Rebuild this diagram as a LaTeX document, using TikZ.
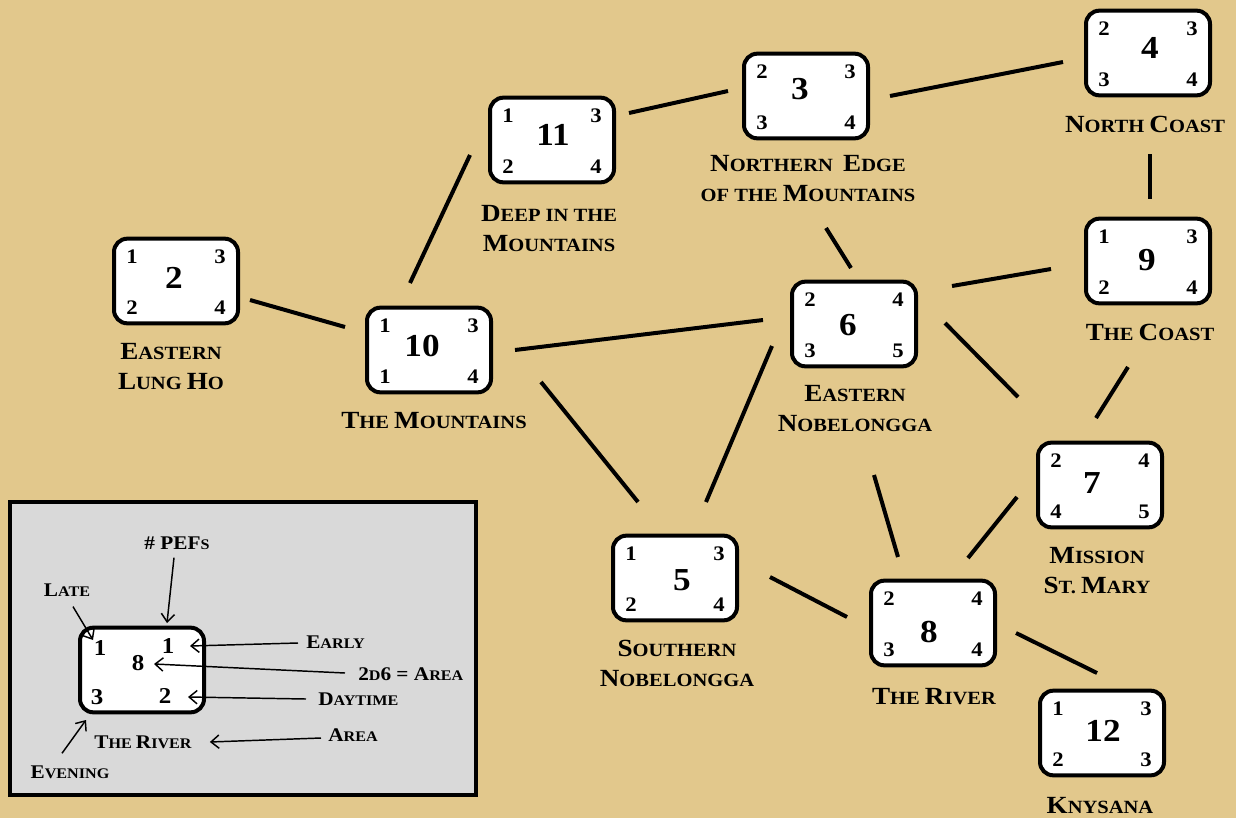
\documentclass[tikz,border=0pt]{standalone}
\usepackage{fontspec}
\setmainfont[FakeStretch=1.1]{Liberation Serif}
\usetikzlibrary{calc,arrows.meta}

\definecolor{parch}{RGB}{226,200,140}
\definecolor{legendgray}{RGB}{217,217,217}

\newcommand\Bg[1]{{\fontsize{18.5}{22.5}\selectfont #1}}
\newcommand\Bl[1]{{\fontsize{14.5}{18}\selectfont #1}}

\tikzset{
  rbox/.style={draw=black, line width=3pt, fill=white, rounded corners=10pt,
    minimum width=93pt, minimum height=63.5pt, inner sep=0pt},
  cnum/.style={font=\bfseries\fontsize{24}{24}\selectfont, inner sep=0pt},
  knum/.style={font=\bfseries\fontsize{15.5}{15.5}\selectfont, inner sep=0pt},
  lbl/.style={font=\bfseries\fontsize{14}{22.5}\selectfont, align=center, inner sep=0pt},
  conn/.style={line width=3pt, draw=black},
  legframe/.style={draw=black, line width=3pt, fill=legendgray,
    minimum width=349.5pt, minimum height=219.75pt, inner sep=0pt},
  lnum/.style={font=\bfseries\fontsize{17}{17}\selectfont, inner sep=0pt},
  llbl/.style={font=\bfseries\fontsize{11}{14}\selectfont, inner sep=0pt},
  larr/.style={line width=1.1pt, draw=black, -{Straight Barb[length=6pt,width=10pt]}}
}

\newcommand\regbox[8]{%
  \node[rbox] (#1) at #2 {};
  \node[cnum] (#1c) at ($(#1)+#4$) {#3};
  \node[knum] (#1tl) at ($(#1)+(-44,-24)$) {#5};
  \node[knum] (#1tr) at ($(#1)+(44,-24)$) {#6};
  \node[knum] (#1bl) at ($(#1)+(-44,27)$) {#7};
  \node[knum] (#1br) at ($(#1)+(44,27)$) {#8};
}

\begin{document}
\begin{tikzpicture}[x=0.75pt, y=-0.75pt]
\useasboundingbox (0,0) rectangle (1236,818);
\fill[parch] (0,0) rectangle (1236,818);

% region boxes
\regbox{n2}{(176,281)}{2}{(-2,-3)}{1}{3}{2}{4}
\regbox{n10}{(429,350)}{10}{(-7,-4)}{1}{3}{1}{4}
\regbox{n11}{(552,140)}{11}{(1,-5)}{1}{3}{2}{4}
\regbox{n3}{(806,96)}{3}{(-6,-7)}{2}{3}{3}{4}
\regbox{n4}{(1148,53)}{4}{(2,-5)}{2}{3}{3}{4}
\regbox{n9}{(1148,261)}{9}{(-1,-1)}{1}{3}{2}{4}
\regbox{n6}{(854,324)}{6}{(-6,1)}{2}{4}{3}{5}
\regbox{n7}{(1100,485)}{7}{(-8,-2)}{2}{4}{4}{5}
\regbox{n5}{(675,578)}{5}{(7,2)}{1}{3}{2}{4}
\regbox{n8}{(933,623)}{8}{(-4,9)}{2}{4}{3}{4}
\regbox{n12}{(1102,733)}{12}{(1,-2)}{1}{3}{2}{3}

% region names
\node[lbl] (lab2) at (171,367) {\Bg{E}ASTERN\\\Bg{L}UNG \Bg{H}O};
\node[lbl] (lab10) at (434,421) {\Bg{T}HE \Bg{M}OUNTAINS};
\node[lbl] (lab11) at (549,229) {\Bg{D}EEP IN THE\\\Bg{M}OUNTAINS};
\node[lbl] (lab3) at (808,179) {\Bg{N}ORTHERN\ \ \Bg{E}DGE\\OF THE \Bg{M}OUNTAINS};
\node[lbl] (lab4) at (1145,124) {\Bg{N}ORTH \Bg{C}OAST};
\node[lbl] (lab9) at (1150,332) {\Bg{T}HE \Bg{C}OAST};
\node[lbl] (lab6) at (855,409) {\Bg{E}ASTERN\\\Bg{N}OBELONGGA};
\node[lbl] (lab7) at (1097,571) {\Bg{M}ISSION\\\Bg{S}T. \Bg{M}ARY};
\node[lbl] (lab5) at (677,663) {\Bg{S}OUTHERN\\\Bg{N}OBELONGGA};
\node[lbl] (lab8) at (934,697) {\Bg{T}HE \Bg{R}IVER};
\node[lbl] (lab12) at (1100,806) {\Bg{K}NYSANA};

% connectors
\draw[conn] ($(n2)+(74,19)$) -- ($(n10)+(-84,-23)$);
\draw[conn] ($(n10)+(-19,-67)$) -- ($(n11)+(-82,15)$);
\draw[conn] ($(n11)+(77,-27)$) -- ($(n3)+(-78,-5)$);
\draw[conn] ($(n3)+(84,0)$) -- ($(n4)+(-85,9)$);
\draw[conn] ($(n4)+(2,101)$) -- ($(n9)+(2,-62)$);
\draw[conn] ($(n3)+(20,132)$) -- ($(n6)+(-3,-56)$);
\draw[conn] ($(n10)+(86,0)$) -- ($(n6)+(-91,-4)$);
\draw[conn] ($(n6)+(98,-38)$) -- ($(n9)+(-97,8)$);
\draw[conn] ($(n6)+(91,-1)$) -- ($(n7)+(-82,-88)$);
\draw[conn] ($(n9)+(-20,106)$) -- ($(n7)+(-4,-67)$);
\draw[conn] ($(n10)+(112,32)$) -- ($(n5)+(-37,-76)$);
\draw[conn] ($(n6)+(-82,22)$) -- ($(n5)+(31,-76)$);
\draw[conn] ($(n6)+(20,151)$) -- ($(n8)+(-35,-66)$);
\draw[conn] ($(n7)+(-83,12)$) -- ($(n8)+(35,-65)$);
\draw[conn] ($(n5)+(95,-1)$) -- ($(n8)+(-86,-6)$);
\draw[conn] ($(n8)+(83,10)$) -- ($(n12)+(-5,-60)$);

% legend
\node[legframe] (legend) at (243,648.5) {};
\node[rbox] (lbox) at (142,670) {};
\node[lnum] (lbtl) at ($(lbox)+(-42,-22)$) {1};
\node[lnum] (lbtr) at ($(lbox)+(26,-24)$) {1};
\node[lnum] (lbc) at ($(lbox)+(-4,-7)$) {8};
\node[lnum] (lbbl) at ($(lbox)+(-45,27)$) {3};
\node[lnum] (lbbr) at ($(lbox)+(23,26)$) {2};

\node[llbl] (lpefs) at (177,543) {\Bl{\# PEF}S};
\node[llbl] (llate) at (67,590) {\Bl{L}ATE};
\node[llbl, anchor=west] (learly) at (306,642) {\Bl{E}ARLY};
\node[llbl, anchor=west] (ld6) at (358,674) {\Bl{2}D\Bl{6 = A}REA};
\node[llbl, anchor=west] (lday) at (318,699) {\Bl{D}AYTIME};
\node[llbl] (lriver) at (143,742) {\Bl{T}HE \Bl{R}IVER};
\node[llbl, anchor=west] (larea) at (328,735) {\Bl{A}REA};
\node[llbl] (leven) at (70,772) {\Bl{E}VENING};

\draw[larr] ($(lpefs.south)+(-3,8)$) -- ($(lbox)+(25,-47)$);
\draw[larr] ($(llate.south)+(6,10)$) -- ($(lbox)+(-49,-30)$);
\draw[larr] ($(learly.west)+(-8,1)$) -- ($(lbox)+(48,-24)$);
\draw[larr] ($(ld6.west)+(-13,-1)$) -- ($(lbox)+(12,-6)$);
\draw[larr] ($(lday.west)+(-12,0)$) -- ($(lbox)+(46,27)$);
\draw[larr] ($(larea.west)+(-7,3)$) -- ($(lriver.east)+(18,0)$);
\draw[larr] ($(leven.north)+(-8,-12)$) -- ($(lbox)+(-56,50)$);
\end{tikzpicture}
\end{document}
